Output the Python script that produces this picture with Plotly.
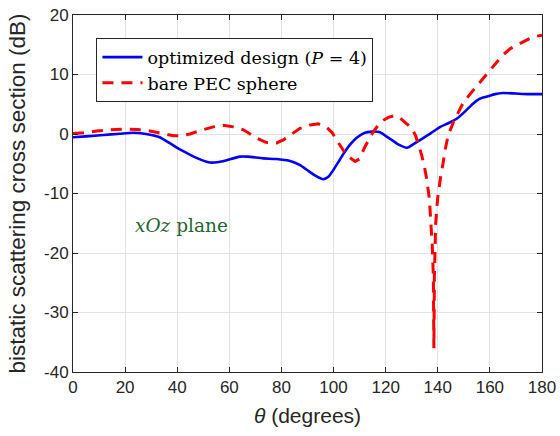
import plotly.graph_objects as go

theta_opt = [0, 5, 11.6, 18, 23, 28, 33, 37, 41, 45, 49, 52.6, 56, 59, 64, 67, 73, 78, 83, 87, 90, 93, 96, 98, 100, 102, 104, 106.5, 109, 112, 114.7, 117.8, 120.4, 123, 125, 128.2, 131, 134.4, 137.5, 141, 144, 147.4, 150.5, 153.5, 156, 159, 162, 165, 170, 175, 180]
rcs_opt = [-0.55, -0.4, -0.17, 0.05, 0.2, 0.0, -0.5, -1.5, -2.6, -3.5, -4.3, -4.8, -4.7, -4.4, -3.8, -3.8, -4.1, -4.2, -4.5, -5.2, -6.1, -7.0, -7.6, -7.2, -6.0, -4.6, -3.2, -1.7, -0.6, 0.2, 0.4, 0.3, -0.45, -1.2, -1.8, -2.3, -1.6, -0.7, 0.2, 1.2, 1.8, 2.6, 3.8, 5.1, 5.9, 6.3, 6.7, 6.9, 6.8, 6.7, 6.7]

theta_pec = [0, 4, 9, 14, 20, 25, 29.6, 34, 38.5, 41.5, 44.9, 49, 53.9, 57.7, 61.5, 65.4, 70.5, 74, 78.2, 80.7, 84, 87.1, 91, 94.2, 97.4, 99.5, 101.2, 103, 105, 108.3, 110, 112.1, 113.8, 115.3, 117, 119.1, 121, 123.6, 125.5, 128, 130, 131.5, 132.6, 133.8, 135, 135.8, 136.8, 137.4, 137.9, 138.3, 138.5, 138.7, 139.2, 139.9, 140.5, 141.1, 142, 142.8, 144, 145, 146, 147.4, 149.7, 152, 154.3, 157, 159, 162, 165, 168, 171.6, 175, 177.5, 180]
rcs_pec = [0.1, 0.2, 0.5, 0.7, 0.8, 0.75, 0.5, 0.1, -0.3, -0.3, 0.0, 0.6, 1.2, 1.45, 1.2, 0.7, -0.7, -1.4, -1.5, -1.0, 0.0, 0.95, 1.5, 1.7, 1.1, 0.2, -1.0, -2.2, -3.6, -4.6, -4.2, -2.1, -0.7, 0.4, 1.4, 2.3, 2.8, 3.1, 2.7, 1.8, 1.0, -0.3, -1.8, -3.5, -5.8, -7.7, -11.0, -15.0, -19.0, -24.0, -36.0, -24.0, -15.0, -11.0, -9.0, -7.2, -5.0, -2.7, -0.2, 1.0, 2.0, 3.2, 5.2, 6.5, 7.7, 9.2, 10.2, 11.8, 13.3, 14.4, 15.2, 16.0, 16.4, 16.6]

x_ticks = [0, 20, 40, 60, 80, 100, 120, 140, 160, 180]
y_ticks = [-40, -30, -20, -10, 0, 10, 20]

SANS = "Liberation Sans, Arial, sans-serif"
SERIF = "DejaVu Serif, Liberation Serif, serif"

fig = go.Figure()
fig.add_trace(go.Scatter(
    x=theta_opt, y=rcs_opt, mode="lines", name="optimized design (<i>P</i> = 4)",
    line=dict(color="#0000ff", width=2.6, shape="spline", smoothing=0.6)))
fig.add_trace(go.Scatter(
    x=theta_pec, y=rcs_pec, mode="lines", name="bare PEC sphere",
    line=dict(color="#ff0000", width=3, dash="11px,8px")))

axis_common = dict(showline=True, linecolor="#262626", linewidth=1, mirror="ticks",
                   ticks="inside", ticklen=5, tickcolor="#262626",
                   showgrid=True, gridcolor="#e3e3e3", gridwidth=1, zeroline=False,
                   automargin=False, ticklabeloverflow="allow",
                   tickfont=dict(family=SANS, size=17, color="#262626"))

fig.update_xaxes(range=[0, 180], tickvals=x_ticks,
                 title=dict(text="<i>θ</i> (degrees)", standoff=11,
                            font=dict(family=SANS, size=21, color="#262626")),
                 **axis_common)
fig.update_yaxes(range=[-40, 20], tickvals=y_ticks, ticktext=[str(v) for v in y_ticks],
                 title=dict(text="bistatic scattering cross section (dB)", standoff=12,
                            font=dict(family=SANS, size=22.5, color="#262626")),
                 **axis_common)

fig.add_annotation(x=41.5, y=-15.3, xref="x", yref="y", text="<i>xOz</i> plane", showarrow=False,
                   font=dict(family=SERIF, size=18.5, color="#1f6630"))

fig.update_layout(
    width=560, height=436,
    margin=dict(l=73, r=18, t=15, b=64),
    paper_bgcolor="white", plot_bgcolor="white",
    showlegend=True,
    legend=dict(x=0.05, y=0.935, xanchor="left", yanchor="top",
                bgcolor="white", bordercolor="#262626", borderwidth=1,
                font=dict(family=SERIF, size=17.5, color="black"),
                tracegroupgap=0, itemwidth=40),
)

fig.write_html("out.html", config={"displayModeBar": False},
               post_script="document.body.style.margin='0px';")
